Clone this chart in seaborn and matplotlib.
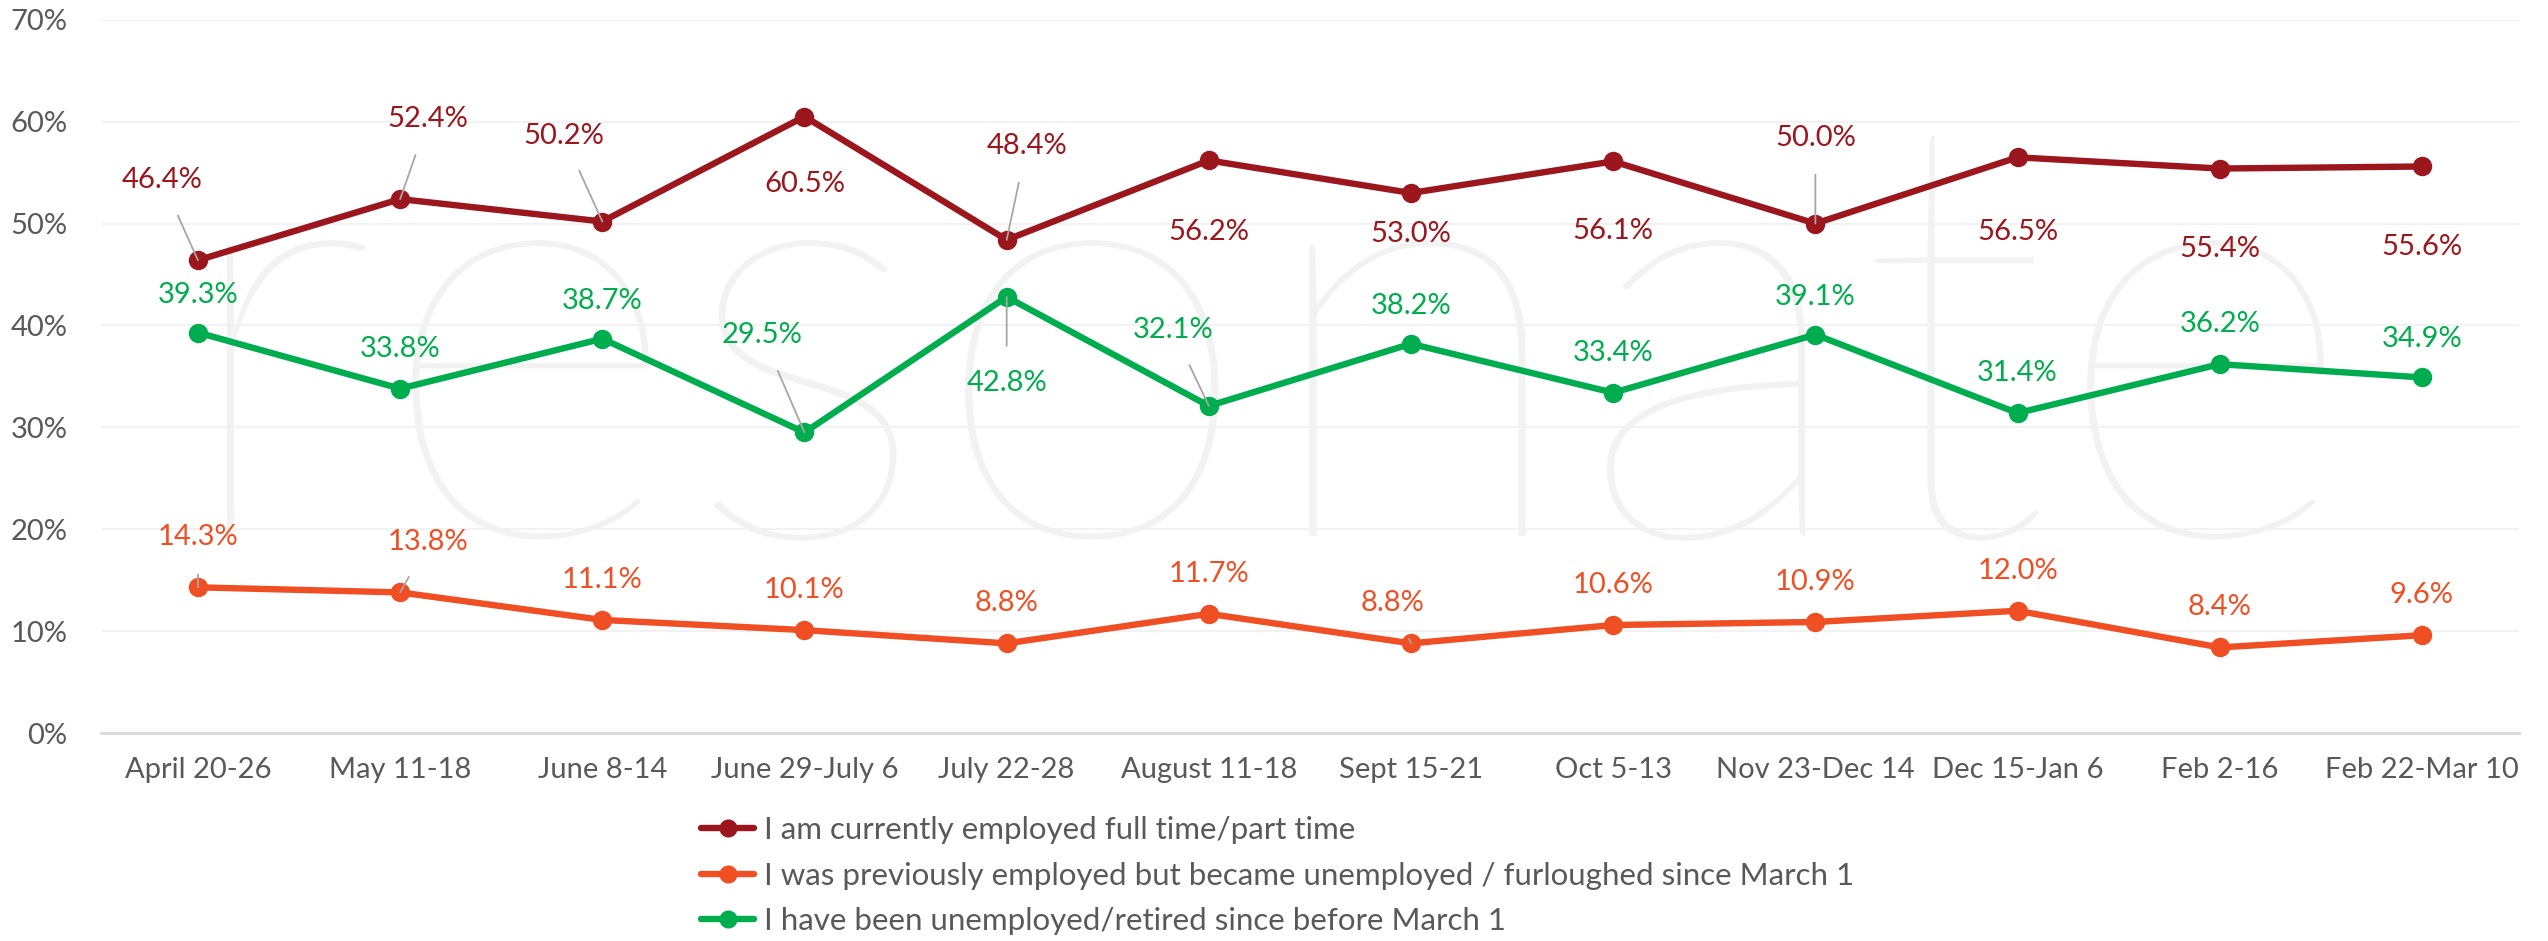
import pandas as pd
import seaborn as sns
import matplotlib.pyplot as plt
from matplotlib.lines import Line2D
from matplotlib.textpath import TextPath
from matplotlib.patches import PathPatch
from matplotlib.font_manager import FontProperties
from matplotlib.transforms import Affine2D

sns.set_theme(style='white')
plt.rcParams['font.family'] = ['Lato', 'DejaVu Sans']

weeks = ['April 20-26', 'May 11-18', 'June 8-14', 'June 29-July 6', 'July 22-28', 'August 11-18',
         'Sept 15-21', 'Oct 5-13', 'Nov 23-Dec 14', 'Dec 15-Jan 6', 'Feb 2-16', 'Feb 22-Mar 10']
employed = [46.4, 52.4, 50.2, 60.5, 48.4, 56.2, 53.0, 56.1, 50.0, 56.5, 55.4, 55.6]
furloughed = [14.3, 13.8, 11.1, 10.1, 8.8, 11.7, 8.8, 10.6, 10.9, 12.0, 8.4, 9.6]
unemployed = [39.3, 33.8, 38.7, 29.5, 42.8, 32.1, 38.2, 33.4, 39.1, 31.4, 36.2, 34.9]

names = ['I am currently employed full time/part time',
         'I was previously employed but became unemployed / furloughed since March 1',
         'I have been unemployed/retired since before March 1']
colors = ['#9B161D', '#F04E23', '#00AD4E']

# label offsets in pixels (dx, dy), and whether a leader line is drawn
offs_emp = [(-36, 80, 1), (28, 80, 1), (-39, 86, 1), (0, -67, 0), (20, 94, 1), (0, -72, 0),
            (0, -41, 0), (0, -70, 0), (0, 86, 1), (0, -75, 0), (0, -80, 0), (0, -81, 0)]
offs_fur = [(0, 50, 1), (28, 50, 1), (0, 40, 0), (0, 40, 0), (0, 40, 0), (0, 40, 0),
            (-18, 40, 1), (0, 40, 0), (0, 40, 0), (0, 40, 0), (0, 40, 0), (0, 40, 0)]
offs_une = [(0, 38, 0), (0, 40, 0), (0, 38, 0), (-42, 97, 1), (0, -86, 1), (-36, 76, 1),
            (0, 38, 0), (0, 40, 0), (0, 38, 0), (0, 40, 0), (0, 40, 0), (0, 38, 0)]

fig = plt.figure(figsize=(25.48, 9.41), dpi=100)
ax = fig.add_axes([0.0396, 0.221, 0.949, 0.758])

# faint watermark logo, drawn as a shape
wm = TextPath((0, 0), 'resonate', size=100, prop=FontProperties(family='Lato', weight='light'))
ext = wm.get_extents()
sx = 2097 / ext.width
sy = 309 / 52.0
wm_tf = Affine2D().translate(-ext.x0, 0).scale(sx, sy).translate(227, 405)
ax.add_artist(PathPatch(wm, transform=wm_tf, facecolor='#F2F2F2', edgecolor='none', zorder=0))

series = [(employed, offs_emp), (furloughed, offs_fur), (unemployed, offs_une)]
for (vals, offs), name, c in zip(series, names, colors):
    df = pd.DataFrame({'week': weeks, 'pct': vals})
    sns.lineplot(data=df, x='week', y='pct', ax=ax, color=c, linewidth=4.6, marker='o',
                 markersize=14, markeredgewidth=0, sort=False, zorder=3)
    for i, (v, (dx, dy, lead)) in enumerate(zip(vals, offs)):
        ax.annotate(f'{v:.1f}%', (i, v), xytext=(dx, dy), textcoords='offset pixels',
                    ha='center', va='center', fontsize=21, color=c, zorder=4,
                    arrowprops=dict(arrowstyle='-', color='#A6A6A6', lw=1.3,
                                    shrinkA=15, shrinkB=0) if lead else None)

ax.set_ylim(0, 70)
ax.set_xlim(-0.48, 11.48)
ax.set_yticks(range(0, 71, 10))
ax.set_yticklabels([f'{t}%' for t in range(0, 71, 10)])
ax.yaxis.grid(True, color='#F2F2F2', linewidth=1.5)
ax.set_axisbelow(True)
for s in ['top', 'right', 'left']:
    ax.spines[s].set_visible(False)
ax.spines['bottom'].set_color('#D9D9D9')
ax.spines['bottom'].set_linewidth(2)
ax.tick_params(axis='both', length=0, labelsize=21, labelcolor='#595959')
ax.tick_params(axis='x', pad=17)
ax.tick_params(axis='y', pad=24)
ax.set_xlabel('')
ax.set_ylabel('')

handles = [Line2D([], [], color=c, lw=4.6, marker='o', markersize=12) for c in colors]
fig.legend(handles, names, loc='upper left', bbox_to_anchor=(0.269, 0.149), frameon=False,
           fontsize=22.5, labelcolor='#595959', handlelength=1.7, handletextpad=0.33,
           labelspacing=0.55, borderpad=0)

fig.savefig('out.png', dpi=100, facecolor='white')
